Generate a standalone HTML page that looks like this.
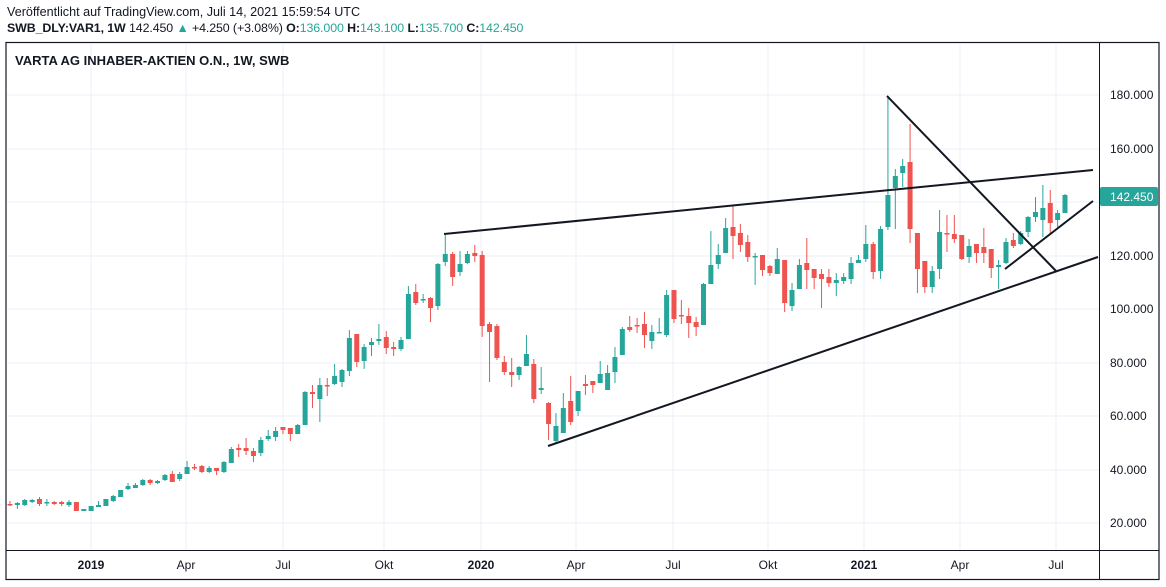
<!DOCTYPE html>
<html><head><meta charset="utf-8"><style>
html,body{margin:0;padding:0;background:#fff;width:1166px;height:587px;overflow:hidden;font-family:"Liberation Sans",sans-serif}
.h1{position:absolute;left:7px;top:5px;font-size:12.6px;color:#131722}
.h2{position:absolute;left:7px;top:21px;font-size:12.4px;color:#131722;letter-spacing:-0.1px}
.t{color:#26a69a}
</style></head><body>
<div class="h1">Veröffentlicht auf TradingView.com, Juli 14, 2021 15:59:54 UTC</div>
<div class="h2"><b>SWB_DLY:VAR1, 1W</b> 142.450 <span class="t">▲</span> +4.250 (+3.08%) <b>O:</b><span class="t">136.000</span> <b>H:</b><span class="t">143.100</span> <b>L:</b><span class="t">135.700</span> <b>C:</b><span class="t">142.450</span></div>
<svg id="s" width="1166" height="587" style="position:absolute;left:0;top:0" xmlns="http://www.w3.org/2000/svg"></svg>
<script>
var s=document.getElementById('s'),h='';
h+='<rect x="6" y="42.5" width="1153" height="537" fill="none" stroke="#131722" stroke-width="1.2"/>';
[95,149,202,256,309,363,416,470,523].forEach(function(y){h+='<line x1="7" x2="1099" y1="'+y+'" y2="'+y+'" stroke="#eceff5"/>';});
[91,186,283,384,481,576,673,768,864,960,1056].forEach(function(x){h+='<line y1="43" y2="550" x1="'+x+'" x2="'+x+'" stroke="#eceff5"/>';});
h+='<line x1="1099.5" x2="1099.5" y1="43" y2="580" stroke="#131722"/>';
h+='<line x1="6" x2="1159" y1="550.5" y2="550.5" stroke="#131722"/>';
var lab=[[95,'180.000'],[149,'160.000'],[202,'140.000'],[256,'120.000'],[309,'100.000'],[363,'80.000'],[416,'60.000'],[470,'40.000'],[523,'20.000']];
lab.forEach(function(l){h+='<text x="1110" y="'+(l[0]+4)+'" font-size="12" fill="#131722">'+l[1]+'</text>';});
[[91,'2019',1],[186,'Apr'],[283,'Jul'],[384,'Okt'],[481,'2020',1],[576,'Apr'],[673,'Jul'],[768,'Okt'],[864,'2021',1],[960,'Apr'],[1056,'Jul']].forEach(function(l){h+='<text x="'+l[0]+'" y="569" text-anchor="middle" font-size="12" fill="#131722"'+(l[2]?' font-weight="bold"':'')+'>'+l[1]+'</text>';});
h+='<text x="15" y="65" font-size="13" font-weight="bold" fill="#131722">VARTA AG INHABER-AKTIEN O.N., 1W, SWB</text>';
var d=[
['r',504,505,501,506],['g',503,505,502,509],['g',500,505,499,506],['g',500,502,499,503],['r',499,504,497,506],['g',502,503,499,506],['r',502,504,501,505],['r',502,504,501,506],['g',502,505,500,507],['r',502,511,502,511],
['g',509,511,509,511],['g',506,511,506,511],['g',505,507,501,507],['g',499,506,499,506],['g',496,501,495,502],['g',490,497,490,497],['g',486,489,483,490],['g',485,488,483,488],['g',480,485,479,486],['r',480,483,479,485],
['g',481,483,480,484],['g',475,480,474,481],['r',474,482,471,482],['g',474,479,472,481],['g',467,474,461,474],['r',467,468,464,470],['r',466,472,465,473],['g',468,472,466,473],['r',468,471,468,475],['g',462,472,461,473],
['g',449,463,447,463],['r',448,450,444,457],['r',448,451,438,455],['r',451,456,448,462],['g',440,453,437,456],['g',436,439,430,441],['g',431,437,427,441],['r',427,430,427,434],['r',428,434,428,441],['g',425,434,424,434],
['g',392,425,391,425],['r',392,394,385,408],['g',385,399,378,422],['r',385,386,378,396],['g',376,384,364,385],['g',370,382,369,387],['g',338,371,330,376],['r',334,362,334,367],['g',347,361,344,369],['g',342,345,338,356],
['g',339,341,324,345],['r',337,348,331,354],['r',347,349,342,356],['g',340,349,337,351],['g',294,339,286,339],['r',292,303,284,305],['g',299,300,294,303],['r',298,308,297,322],['g',264,306,263,310],['g',254,262,235,266],
['r',254,277,252,286],['g',264,272,251,276],['g',254,263,251,264],['r',253,256,245,262],['r',255,326,251,337],['r',324,332,322,382],['r',326,358,324,360],['r',362,372,356,375],['r',372,375,358,387],['g',367,375,366,380],
['g',354,366,335,366],['r',364,399,359,403],['g',388,390,367,394],['r',403,424,402,440],['g',426,441,413,443],['g',408,433,393,433],['r',401,422,376,425],['g',391,411,391,416],['r',384,386,375,395],['r',381,385,381,393],
['g',374,383,361,383],['g',373,390,365,390],['g',357,372,347,383],['g',329,355,327,355],['r',327,330,316,332],['r',325,326,318,333],['r',324,335,312,348],['g',332,341,325,349],['g',332,333,318,333],['g',295,335,290,337],
['r',290,319,290,323],['r',315,316,300,324],['r',316,323,308,338],['r',322,327,317,336],['g',284,325,283,325],['g',265,284,231,284],['g',255,264,244,269],['g',228,253,218,253],['r',227,236,206,259],['r',233,245,224,252],
['r',242,257,235,262],['g',256,257,253,285],['r',255,270,255,276],['r',266,273,265,276],['g',259,274,248,274],['r',260,303,260,312],['g',290,306,283,311],['g',265,289,259,289],
['r',263,270,238,289],['r',269,278,269,289],['r',274,279,269,308],['r',277,283,269,287],['g',280,283,273,296],['g',277,281,273,284],['g',263,279,257,284],['g',260,263,255,263],['g',244,259,225,262],['r',244,272,242,279],
['g',229,271,226,279],['g',195,227,96,230],['g',176,188,169,229],['g',166,173,159,187],['r',162,229,124,243],['r',233,269,233,293],['r',261,287,261,293],['g',271,287,266,293],['g',232,269,210,279],['r',233,234,215,252],
['r',234,239,215,243],['r',235,259,235,260],['g',246,257,239,263],['r',244,253,244,263],['r',247,253,228,263],['r',249,268,249,278],['g',265,267,260,289],['g',242,263,238,264],['r',240,246,233,248],['g',233,244,231,245],
['g',217,232,216,237],['g',212,217,197,222],['g',208,220,185,237],['r',203,223,190,234],['g',213,220,210,227],['g',195,213,194,213]];
var n=d.length,sp=(1065-10)/(n-1);
d.forEach(function(c,i){var x=10+i*sp,col=c[0]=='g'?'#26a69a':'#ef5350';var bh=Math.max(1.5,c[2]-c[1]);
h+='<line x1="'+x+'" x2="'+x+'" y1="'+c[3]+'" y2="'+c[4]+'" stroke="'+col+'" stroke-width="1"/>';
h+='<rect x="'+(x-2.5)+'" y="'+c[1]+'" width="5" height="'+bh+'" fill="'+col+'"/>';});
[[444,234,1093,170],[548,446,1098,257],[887,96,1056,271],[1005,269,1093,201]].forEach(function(l){h+='<line x1="'+l[0]+'" y1="'+l[1]+'" x2="'+l[2]+'" y2="'+l[3]+'" stroke="#131722" stroke-width="2"/>';});
h+='<rect x="1100" y="187" width="58" height="19" rx="2" fill="#26a69a"/><text x="1110" y="201" font-size="12" fill="#fff">142.450</text>';
s.innerHTML=h;
</script>
</body></html>
